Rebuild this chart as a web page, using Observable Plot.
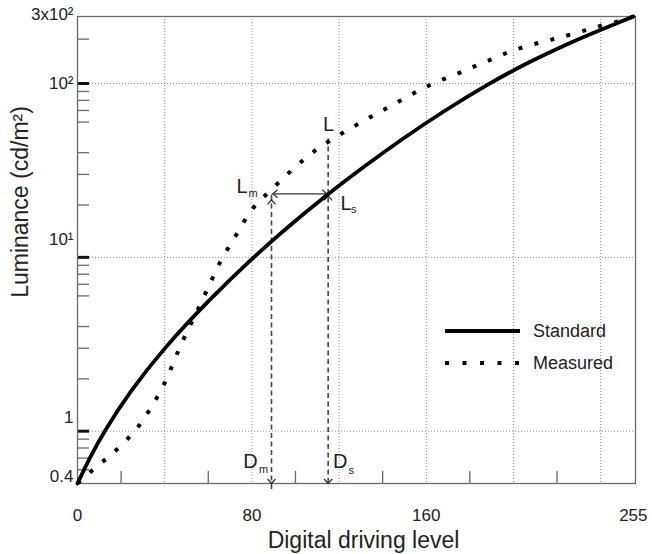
<!DOCTYPE html>
<html><head><meta charset="utf-8">
<script src="https://cdn.jsdelivr.net/npm/d3@7"></script>
<script src="https://cdn.jsdelivr.net/npm/@observablehq/plot@0.6"></script>
<style>
body{margin:0;background:#fff;}
#wrap{position:relative;width:652px;height:554px;font-family:"Liberation Sans",Arial,sans-serif;}
#wrap svg.legend{position:absolute;left:0;top:0;}
</style></head><body><div id="wrap"></div>
<script>
// ---- data ----
const standardX = [0, 6, 12, 24, 40, 60, 80, 96, 115, 130, 148, 168, 188, 207, 226, 240, 255];
const standardY = [0.5, 0.72, 0.985, 1.69, 3.04, 5.63, 9.84, 14.8, 23.2, 32.3, 47.1, 69.4, 98.9, 133, 172, 204, 243];
const measuredX = [0, 7, 13, 19.5, 25, 30, 34, 38, 41.5, 44.5, 47.5, 51, 58, 64.5, 68.5, 72.8, 76.6, 81, 87, 92.6, 98.3, 104.4, 110.5, 117.4, 124, 131, 138, 145, 152, 159, 166, 174, 181, 188.5, 196, 203, 211, 218.5, 226, 234, 241, 249, 255];
const measuredY = [0.5, 0.6, 0.69, 0.81, 0.96, 1.14, 1.39, 1.68, 2.07, 2.57, 3.16, 3.9, 5.9, 9.0, 11.0, 13.4, 16.3, 19.8, 23.2, 27.2, 31.8, 37.1, 42.6, 48.3, 54.2, 60.7, 68, 75.7, 85, 94.6, 104, 113, 124, 135, 149, 160, 171, 180, 191, 204, 217, 228, 243];
const seriesNames = ["Standard", "Measured"];
const levelD = [89, 115];     // D_m, D_s
const levelL = [23.2, 48];    // L_m (= L_s), L
const xDomain = [0, 256];
const yDomain = [0.5, 243];
const xTickValues = [0, 80, 160, 255];
const xGridValues = [40, 80, 120, 160, 200, 240];
const xMinorTicks = [20, 60, 100, 140, 180, 220];
const yGridValues = [1, 10, 100];
const yMinorTicks = [0.6, 0.7, 0.8, 0.9, 2, 3, 4, 6, 7, 8, 9, 20, 30, 40, 60, 70, 80, 90, 180];
const yTickValues = [243, 100, 10, 1, 0.5];
const yTickLabels = ["3x10\u00B2", "10\u00B2", "10\u00B9", "1", "0.4"];
const xLabel = "Digital driving level";
const yLabel = "Luminance (cd/m\u00B2)";

// ---- layout / style ----
const W = 652, H = 554, mL = 77, mR = 17, mT = 16, mB = 71;
const innerW = W - mL - mR, innerH = H - mT - mB;
const yTickLabelDy = [-2, 0, -18, -14, -7];
const axisColor = "#6a6a6a";
const font = "'Liberation Sans', Arial, sans-serif";

const standard = standardX.map((x, i) => ({x, y: standardY[i]}));
const measured = measuredX.map((x, i) => ({x, y: measuredY[i]}));
const [Dm, Ds] = levelD;
const [Lm, Lmeas] = levelL;
const yBottom = yDomain[0];

const chev = (dir) => ({draw(ctx) {
  const a = 4, b = 4.5;
  if (dir === "down") { ctx.moveTo(-a, -b); ctx.lineTo(0, 0); ctx.lineTo(a, -b); }
  if (dir === "up") { ctx.moveTo(-a, b); ctx.lineTo(0, 0); ctx.lineTo(a, b); }
  if (dir === "left") { ctx.moveTo(b, -a); ctx.lineTo(0, 0); ctx.lineTo(b, a); }
  if (dir === "right") { ctx.moveTo(-b, -a); ctx.lineTo(0, 0); ctx.lineTo(-b, a); }
}});
const chevStyle = {x: "x", y: "y", fill: "none", stroke: "#333", strokeWidth: 1.3};

// annotations: anchor + offsets of main letter and subscript
const annotations = [
  {x: Dm, y: Lm, main: "L", sub: "m", mdx: -29.5, mdy: -7, sdx: -18.5, sdy: 0},
  {x: Ds, y: Lmeas, main: "L", sub: "", mdx: 0.5, mdy: -14, sdx: 0, sdy: 0},
  {x: Ds, y: Lm, main: "L", sub: "s", mdx: 18, mdy: 10, sdx: 25.5, sdy: 16},
  {x: Dm, y: yBottom, main: "D", sub: "m", mdx: -21, mdy: -21.5, sdx: -8, sdy: -14.5},
  {x: Ds, y: yBottom, main: "D", sub: "s", mdx: 12, mdy: -21.5, sdx: 23, sdy: -13}
];
const annotMarks = annotations.flatMap(a => [
  Plot.text([a], {x: "x", y: "y", text: "main", dx: a.mdx, dy: a.mdy, fontSize: 20, fill: "#222"}),
  Plot.text([a], {x: "x", y: "y", text: "sub", dx: a.sdx, dy: a.sdy, fontSize: 11, fill: "#222"})
]);

const yLabelMarks = yTickValues.map((v, i) =>
  Plot.text([v], {y: d => d, text: () => yTickLabels[i], frameAnchor: "left", textAnchor: "end", lineAnchor: "middle",
    dx: -4, dy: yTickLabelDy[i], fontSize: 17, fill: "#222"}));

const chart = Plot.plot({
  width: W, height: H,
  marginLeft: mL, marginRight: mR, marginTop: mT, marginBottom: mB,
  style: {fontFamily: font, background: "white", overflow: "visible"},
  x: {domain: xDomain, axis: null},
  y: {type: "log", domain: yDomain, axis: null},
  marks: [
    Plot.gridX(xGridValues, {stroke: "#8c8c8c", strokeOpacity: 1, strokeWidth: 1, strokeDasharray: "1,2"}),
    Plot.gridY(yGridValues, {stroke: "#8c8c8c", strokeOpacity: 1, strokeWidth: 1, strokeDasharray: "1,2"}),
    Plot.tickY(yMinorTicks, {y: d => d, stroke: axisColor, strokeWidth: 1.3, insetRight: innerW - 12}),
    Plot.tickY(yGridValues, {y: d => d, stroke: "#111", strokeWidth: 3, insetRight: innerW - 12}),
    Plot.tickX(xMinorTicks, {x: d => d, stroke: axisColor, strokeWidth: 1.3, insetTop: innerH - 12}),
    Plot.frame({stroke: axisColor, strokeWidth: 1.3}),
    // guide lines
    Plot.ruleX([{x: Dm, y1: yBottom, y2: Lm}], {x: "x", y1: "y1", y2: "y2", insetTop: 6, stroke: "#444", strokeWidth: 1.6, strokeDasharray: "5,3.5"}),
    Plot.ruleX([{x: Ds, y1: yBottom, y2: Lmeas}], {x: "x", y1: "y1", y2: "y2", stroke: "#444", strokeWidth: 1.6, strokeDasharray: "5,3.5"}),
    Plot.link([{x1: Dm, x2: Ds, y: Lm}], {x1: "x1", x2: "x2", y1: "y", y2: "y", stroke: "#333", strokeWidth: 1.2}),
    Plot.dot([{x: Dm, y: yBottom}, {x: Ds, y: yBottom}], {...chevStyle, symbol: chev("down")}),
    Plot.dot([{x: Dm, y: Lm}], {...chevStyle, symbol: chev("up"), dy: 6}),
    Plot.dot([{x: Ds, y: Lm}], {...chevStyle, symbol: chev("up"), dy: 2}),
    Plot.dot([{x: Dm, y: Lm}], {...chevStyle, symbol: chev("left"), dx: 1.5}),
    Plot.dot([{x: Ds, y: Lm}], {...chevStyle, symbol: chev("right"), dx: -1.5}),
    // series
    Plot.line(standard, {x: "x", y: "y", curve: "basis", stroke: "#000", strokeWidth: 3.8}),
    Plot.line(measured, {x: "x", y: "y", curve: "basis", stroke: "#000", strokeWidth: 4, strokeLinecap: "butt", strokeDasharray: "4,12.5"}),
    ...annotMarks,
    // axes text
    ...yLabelMarks,
    Plot.text(xTickValues, {x: d => d, text: d => String(d), frameAnchor: "bottom", lineAnchor: "middle", dy: 32, fontSize: 17, fill: "#222"}),
    Plot.text([xLabel], {text: d => d, frameAnchor: "bottom", lineAnchor: "middle", dx: 7, dy: 57, fontSize: 23, fill: "#222"}),
    Plot.text([yLabel], {text: d => d, frameAnchor: "left", textAnchor: "middle", lineAnchor: "middle", rotate: -90, dx: -57, dy: -48, fontSize: 23, fill: "#222"})
  ]
});
const wrap = document.getElementById("wrap");
wrap.appendChild(chart);

// legend overlay
const lg = d3.select(wrap).append("svg").attr("class", "legend").attr("width", W).attr("height", H)
  .style("font-family", font).style("pointer-events", "none");
const legendRows = seriesNames.map((name, i) => ({name, y: 331 + i * 32, dash: i === 0 ? null : "4,13.5"}));
legendRows.forEach(r => {
  const ln = lg.append("line").attr("x1", 445).attr("x2", 520).attr("y1", r.y).attr("y2", r.y)
    .attr("stroke", "#000").attr("stroke-width", 4);
  if (r.dash) ln.attr("stroke-dasharray", r.dash);
  lg.append("text").attr("x", 533).attr("y", r.y).attr("dy", "0.35em").attr("font-size", 18).attr("fill", "#222").text(r.name);
});
</script></body></html>
